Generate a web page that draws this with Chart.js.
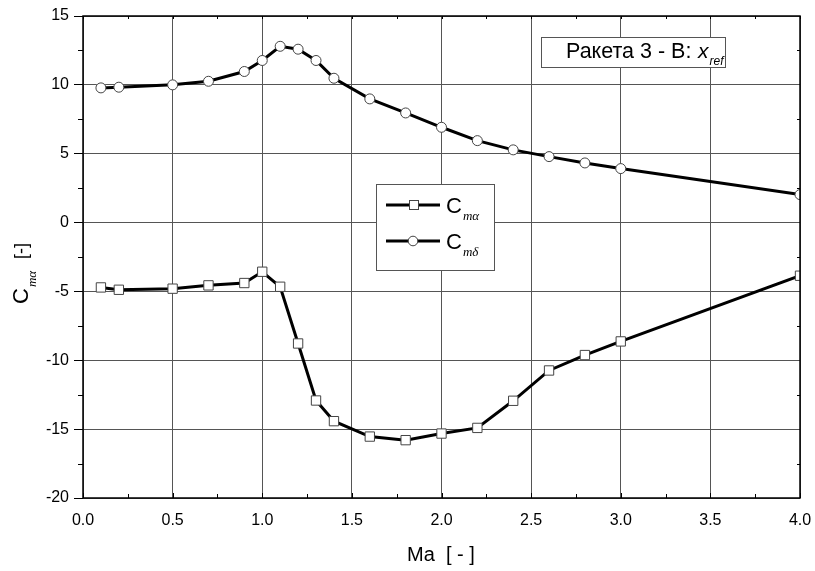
<!DOCTYPE html>
<html>
<head>
<meta charset="utf-8">
<script src="https://cdn.jsdelivr.net/npm/chart.js@4"></script>
<style>
  html, body { margin: 0; padding: 0; background: #fff; }
  #wrap { width: 815px; height: 571px; position: relative; }
</style>
</head>
<body>
<div id="wrap"><canvas id="chart"></canvas></div>
<script>
// Data
const mach = [0.1, 0.2, 0.5, 0.7, 0.9, 1.0, 1.1, 1.2, 1.3, 1.4, 1.6, 1.8, 2.0, 2.2, 2.4, 2.6, 2.8, 3.0, 4.0];
const cmAlpha = [-4.71, -4.88, -4.80, -4.56, -4.39, -3.57, -4.66, -8.78, -12.92, -14.42, -15.54, -15.80, -15.32, -14.91, -12.94, -10.74, -9.62, -8.63, -3.86];
const cmDelta = [9.78, 9.83, 10.0, 10.26, 10.97, 11.77, 12.80, 12.59, 11.77, 10.48, 8.98, 7.96, 6.92, 5.95, 5.28, 4.79, 4.33, 3.92, 2.03];
const xTicks = [0, 0.5, 1.0, 1.5, 2.0, 2.5, 3.0, 3.5, 4.0];
const yTicks = [-20, -15, -10, -5, 0, 5, 10, 15];
const seriesNames = [['C', 'mα'], ['C', 'mδ']];
const titleText = ['Ракета 3 - В:', 'x', 'ref'];

const SANS = '"Liberation Sans", Arial, sans-serif';
const SERIF = '"Liberation Serif", "Times New Roman", serif';

function toPoints(ys) {
  return mach.map((m, i) => ({ x: m, y: ys[i] }));
}

// text with a lowered subscript, returns end x
function drawSub(ctx, x, y, main, sub, mainFont, subFont, dy) {
  ctx.font = mainFont;
  ctx.fillText(main, x, y);
  let w = ctx.measureText(main).width;
  ctx.font = subFont;
  ctx.fillText(sub, x + w + 1, y + dy);
  return x + w + 1 + ctx.measureText(sub).width;
}

const decorPlugin = {
  id: 'decor',
  beforeDraw(chart) {
    const ctx = chart.ctx;
    ctx.save();
    ctx.fillStyle = '#fff';
    ctx.fillRect(0, 0, chart.width, chart.height);
    ctx.restore();
  },
  afterDraw(chart) {
    const ctx = chart.ctx;
    const a = chart.chartArea;
    const xs = chart.scales.x, ys = chart.scales.y;
    ctx.save();

    // frame
    ctx.strokeStyle = '#000';
    ctx.lineWidth = 1.5;
    ctx.strokeRect(a.left, a.top, a.right - a.left, a.bottom - a.top);

    // minor / inner ticks
    ctx.lineWidth = 1;
    ctx.beginPath();
    for (let v = 0; v <= 4.001; v += 0.25) {
      const px = Math.round(xs.getPixelForValue(v)) + 0.5;
      const len = (Math.abs(v * 2 - Math.round(v * 2)) < 0.01) ? 5 : 4;
      ctx.moveTo(px, a.bottom); ctx.lineTo(px, a.bottom - len);
      ctx.moveTo(px, a.top); ctx.lineTo(px, a.top + 3);
    }
    for (let v = -17.5; v < 15; v += 5) {
      const py = Math.round(ys.getPixelForValue(v)) + 0.5;
      ctx.moveTo(a.left, py); ctx.lineTo(a.left - 5, py);
      ctx.moveTo(a.right, py); ctx.lineTo(a.right - 3, py);
    }
    ctx.stroke();

    // legend box
    ctx.fillStyle = '#fff';
    ctx.fillRect(376, 184, 118, 86);
    ctx.strokeStyle = '#555';
    ctx.lineWidth = 1;
    ctx.strokeRect(376.5, 184.5, 118, 86);
    const rows = [205, 241];
    chart.data.datasets.forEach((ds, i) => {
      const y = rows[i];
      ctx.strokeStyle = '#000';
      ctx.lineWidth = 3;
      ctx.beginPath();
      ctx.moveTo(386, y); ctx.lineTo(440, y);
      ctx.stroke();
      ctx.fillStyle = '#fff';
      ctx.strokeStyle = '#444';
      ctx.lineWidth = 1;
      if (ds.pointStyle === 'rect') {
        ctx.fillRect(409, y - 4.5, 9, 9);
        ctx.strokeRect(409.5, y - 4.5, 9, 9);
      } else {
        ctx.beginPath();
        ctx.arc(413, y, 4.8, 0, Math.PI * 2);
        ctx.fill(); ctx.stroke();
      }
      ctx.fillStyle = '#000';
      ctx.textBaseline = 'alphabetic';
      ctx.textAlign = 'left';
      drawSub(ctx, 446, y + 8, seriesNames[i][0], seriesNames[i][1],
        '22px ' + SANS, 'italic 13px ' + SERIF, 7);
    });

    // title box
    ctx.fillStyle = '#fff';
    ctx.fillRect(541, 37, 184, 30);
    ctx.strokeStyle = '#555';
    ctx.lineWidth = 1;
    ctx.strokeRect(541.5, 37.5, 184, 30);
    ctx.fillStyle = '#000';
    ctx.font = '21.5px ' + SANS;
    ctx.fillText(titleText[0], 566, 58);
    const bw = ctx.measureText(titleText[0] + ' ').width;
    drawSub(ctx, Math.max(566 + bw, 698), 58, titleText[1], titleText[2],
      'italic 21px ' + SANS, 'italic 12px ' + SANS, 7);

    // x axis title
    ctx.font = '20px ' + SANS;
    ctx.textAlign = 'left';
    ctx.fillText('Ma  [ - ]', 407, 561);

    // y axis title (rotated)
    ctx.translate(0, 270);
    ctx.rotate(-Math.PI / 2);
    ctx.textAlign = 'left';
    const end = drawSub(ctx, -34, 28, 'C', 'mα', '22px ' + SANS, 'italic 13px ' + SERIF, 8);
    ctx.font = '18px ' + SANS;
    ctx.fillText('[-]', end + 12, 27);

    ctx.restore();
  }
};

const ctx = document.getElementById('chart').getContext('2d');
new Chart(ctx, {
  type: 'line',
  data: {
    datasets: [
      {
        label: 'Cmα',
        data: toPoints(cmAlpha),
        borderColor: '#000',
        borderWidth: 3,
        pointStyle: 'rect',
        pointRadius: 6.6,
        pointBackgroundColor: '#fff',
        pointBorderColor: '#444',
        pointBorderWidth: 1,
        tension: 0,
      },
      {
        label: 'Cmδ',
        data: toPoints(cmDelta),
        borderColor: '#000',
        borderWidth: 3,
        pointStyle: 'circle',
        pointRadius: 5,
        pointBackgroundColor: '#fff',
        pointBorderColor: '#444',
        pointBorderWidth: 1,
        tension: 0,
      },
    ],
  },
  options: {
    responsive: true,
    maintainAspectRatio: false,
    animation: false,
    layout: { padding: { top: 16, right: 15, left: 0, bottom: 0 } },
    plugins: {
      legend: { display: false },
      tooltip: { enabled: false },
    },
    scales: {
      x: {
        type: 'linear',
        min: 0,
        max: 4,
        afterBuildTicks: s => { s.ticks = xTicks.map(v => ({ value: v })); },
        afterFit: s => { s.height = 73; s.paddingLeft = 0; s.paddingRight = 0; },
        ticks: {
          color: '#000',
          font: { family: SANS, size: 16 },
          padding: 13,
          maxRotation: 0,
          callback: v => v.toFixed(1),
        },
        grid: { color: '#555', lineWidth: 1, drawTicks: false },
        border: { display: false },
      },
      y: {
        type: 'linear',
        min: -20,
        max: 15,
        afterBuildTicks: s => { s.ticks = yTicks.map(v => ({ value: v })); },
        afterFit: s => { s.width = 83; s.paddingTop = 0; s.paddingBottom = 0; },
        ticks: {
          color: '#000',
          font: { family: SANS, size: 16 },
          padding: 5,
          callback: v => String(v),
        },
        grid: { color: '#555', lineWidth: 1, drawTicks: true, tickLength: 9, tickColor: '#000' },
        border: { display: false },
      },
    },
  },
  plugins: [decorPlugin],
});
</script>
</body>
</html>
